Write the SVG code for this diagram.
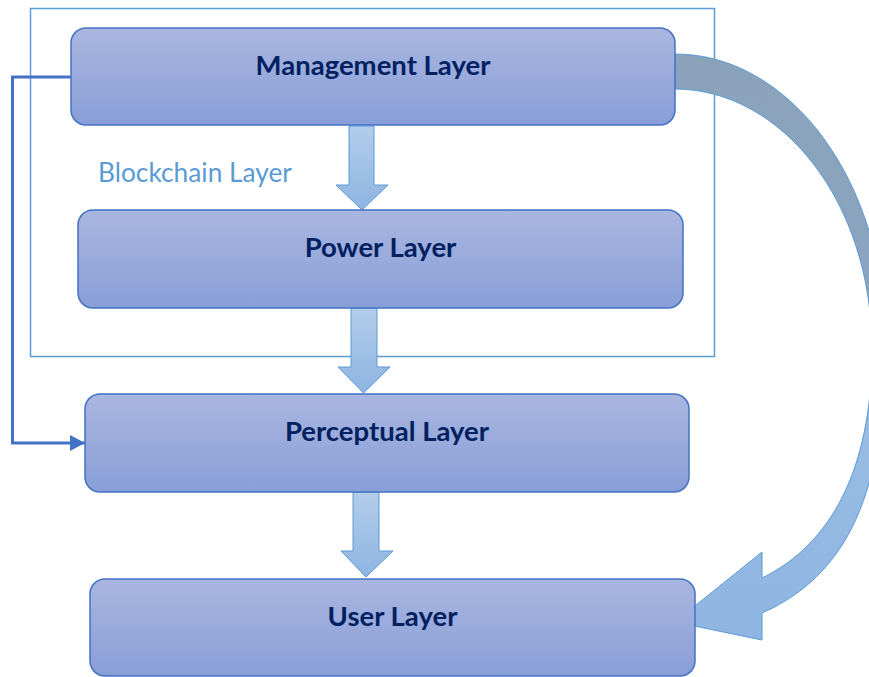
<svg xmlns="http://www.w3.org/2000/svg" width="869" height="677" viewBox="0 0 869 677">
  <defs>
    <linearGradient id="boxFill" x1="0" y1="0" x2="0" y2="1">
      <stop offset="0" stop-color="#A9B6E0"/>
      <stop offset="1" stop-color="#889ED7"/>
    </linearGradient>
    <linearGradient id="downFill" x1="0" y1="0" x2="0" y2="1">
      <stop offset="0" stop-color="#B3CDEA"/>
      <stop offset="1" stop-color="#8DB4E2"/>
    </linearGradient>
    <linearGradient id="curveFill" gradientUnits="userSpaceOnUse" x1="0" y1="54" x2="0" y2="640">
      <stop offset="0" stop-color="#8AA2BA"/>
      <stop offset="0.4" stop-color="#8BA5C0"/>
      <stop offset="0.65" stop-color="#97BBE3"/>
      <stop offset="1" stop-color="#8FB5E2"/>
    </linearGradient>
    <marker id="elbowHead" markerUnits="userSpaceOnUse" markerWidth="16" markerHeight="16" refX="15" refY="8" orient="auto">
      <path d="M0,0 L15,8 L0,16 Z" fill="#4472C4"/>
    </marker>
  </defs>
  <style>
    .box { fill: url(#boxFill); stroke: #4472C4; stroke-width: 1.5; }
    .label { font-family: Lato, "Liberation Sans", sans-serif; font-weight: 700; font-size: 27.5px; fill: #002060; text-anchor: middle; }
    .down { fill: url(#downFill); stroke: #5B9BD5; stroke-width: 1; }
    .group-label { font-family: Lato, "Liberation Sans", sans-serif; font-size: 26.3px; fill: #5B9BD5; }
  </style>

  <!-- Blockchain layer container -->
  <g id="blockchain">
    <rect x="30.5" y="8.5" width="684" height="348" fill="none" stroke="#5B9BD5" stroke-width="1.5"/>
    <text class="group-label" x="98" y="182">Blockchain Layer</text>
  </g>

  <!-- Connectors -->
  <g id="connectors">
    <path id="curved-arrow" d="M675,54 C791,54 885,183 885,340 C885,470 860,570 762,613 L762,640 L675,622 L762,552 L762,578 C830,545 872,470 872,350 C872,200 780,89 675,89 Z" fill="url(#curveFill)" stroke="#5B9BD5" stroke-width="1"/>
    <path d="M349,126 H374 V185 H388 L362,210 L336,185 H349 Z" class="down"/>
    <path d="M351,308 H377 V367 H390 L363.5,393 L338,367 H351 Z" class="down"/>
    <path d="M353,492 H379 V551 H393 L366,577 L341,551 H353 Z" class="down"/>
    <path d="M71,77 H12.5 V443 H85" fill="none" stroke="#4472C4" stroke-width="3" marker-end="url(#elbowHead)"/>
  </g>

  <g id="management">
    <rect class="box" x="71" y="28" width="604" height="97" rx="15"/>
    <text class="label" x="373" y="75">Management Layer</text>
  </g>
  <g id="power">
    <rect class="box" x="78" y="210" width="605" height="98" rx="15"/>
    <text class="label" x="380.5" y="257">Power Layer</text>
  </g>
  <g id="perceptual">
    <rect class="box" x="85" y="394" width="604" height="98" rx="15"/>
    <text class="label" x="387" y="441">Perceptual Layer</text>
  </g>
  <g id="user">
    <rect class="box" x="90" y="579" width="605" height="97" rx="15"/>
    <text class="label" x="392.5" y="626">User Layer</text>
  </g>
</svg>
